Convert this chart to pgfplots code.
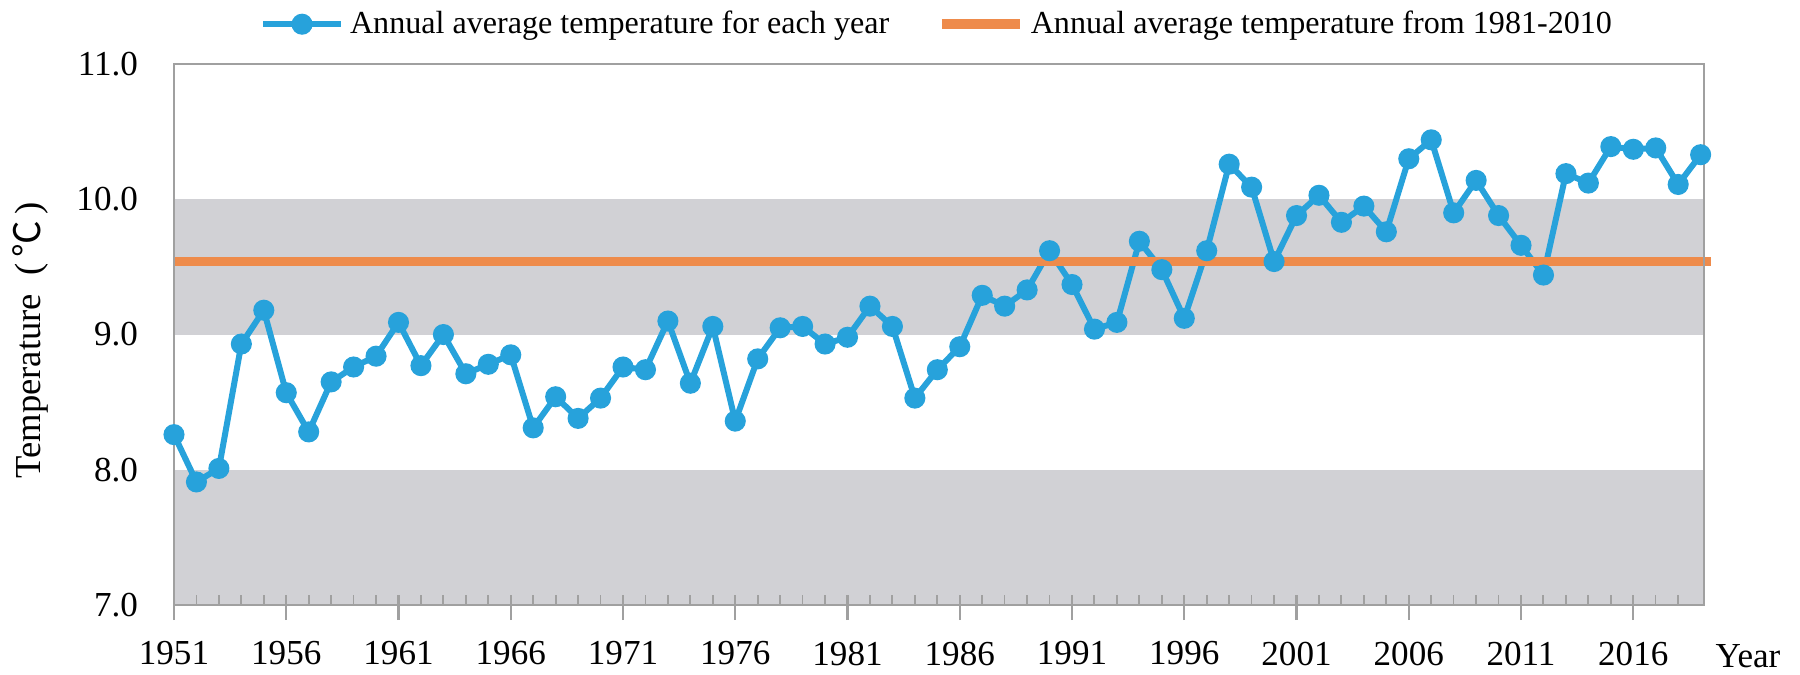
\documentclass[border=0pt]{standalone}
\usepackage{fontspec}
\setmainfont{Liberation Serif}
\newfontfamily\cjk{Noto Sans CJK SC}
\usepackage{pgfplots}
\usepackage{pgfplotstable}
\pgfplotsset{compat=1.18}
\definecolor{lineblue}{HTML}{27A2DB}
\definecolor{lineorange}{HTML}{EE8B4B}
\definecolor{band}{HTML}{D1D1D5}
\definecolor{axgray}{HTML}{A0A0A0}
\pgfplotstableread{
year temp
1951 8.26
1952 7.91
1953 8.01
1954 8.93
1955 9.18
1956 8.57
1957 8.28
1958 8.65
1959 8.76
1960 8.84
1961 9.09
1962 8.77
1963 9.00
1964 8.71
1965 8.78
1966 8.85
1967 8.31
1968 8.54
1969 8.38
1970 8.53
1971 8.76
1972 8.74
1973 9.10
1974 8.64
1975 9.06
1976 8.36
1977 8.82
1978 9.05
1979 9.06
1980 8.93
1981 8.98
1982 9.21
1983 9.06
1984 8.53
1985 8.74
1986 8.91
1987 9.29
1988 9.21
1989 9.33
1990 9.62
1991 9.37
1992 9.04
1993 9.09
1994 9.69
1995 9.48
1996 9.12
1997 9.62
1998 10.26
1999 10.09
2000 9.54
2001 9.88
2002 10.03
2003 9.83
2004 9.95
2005 9.76
2006 10.30
2007 10.44
2008 9.90
2009 10.14
2010 9.88
2011 9.66
2012 9.44
2013 10.19
2014 10.12
2015 10.39
2016 10.37
2017 10.38
2018 10.11
2019 10.33
}\temps
\begin{document}
\begin{tikzpicture}
\path[use as bounding box] (0,0) rectangle (600pt,224.67pt);
\begin{axis}[
 at={(58pt,23pt)}, anchor=south west,
 scale only axis, width=510pt, height=180.3pt,
 xmin=1951, xmax=2019.15, ymin=7, ymax=11,
 axis on top,
 axis line style={axgray, line width=0.7pt},
 xtick={1951,1956,...,2016},
 minor xtick={1951,...,2018},
 xtick pos=bottom, ytick pos=left,
 xtick align=inside,
 major tick length=8.3pt, minor tick length=3.3pt,
 major x tick style={axgray, line width=0.7pt, yshift=-5pt},
 minor x tick style={axgray, line width=0.6pt},
 ytick={7,8,...,11},
 ytick style={draw=none},
 xticklabel style={yshift=-8.7pt},
 yticklabel style={xshift=-8.5pt},
 tick label style={font=\fontsize{11.7}{14}\selectfont},
 x tick label style={/pgf/number format/1000 sep={}},
 y tick label style={/pgf/number format/.cd, fixed, fixed zerofill, precision=1},
 /pgf/number format/assume math mode=true,
 clip=false,
 legend columns=2,
 legend style={at={(rel axis cs:0.5,1)}, anchor=center, yshift=13.3pt, draw=none, fill=none,
   font=\fontsize{10.7}{13}\selectfont,
   /tikz/every even column/.append style={column sep=14pt}},
 legend image code/.code={\draw[mark repeat=2,mark phase=2,#1] plot coordinates {(0pt,0pt) (13pt,0pt) (26pt,0pt)};},
]
\fill[band] (rel axis cs:0,0) rectangle (rel axis cs:1,0.25);
\fill[band] (rel axis cs:0,0.5) rectangle (rel axis cs:1,0.75);
\addplot[lineblue, line width=2pt, mark=*, mark size=2.5pt, mark options={fill=lineblue, draw=lineblue, solid}] table[x=year, y=temp] {\temps};
\addlegendentry{Annual average temperature for each year}
\addplot[lineorange, line width=3.2pt] coordinates {(1951,9.54) (2019.46,9.54)};
\addlegendentry{Annual average temperature from 1981-2010}
\node[anchor=base west, inner sep=0pt, font=\fontsize{11.7}{14}\selectfont] at ([xshift=3.7pt, yshift=-20.7pt]rel axis cs:1,0) {Year};
\node[rotate=90, anchor=center, inner sep=0pt, font=\fontsize{12.2}{14}\selectfont] at ([xshift=-47.7pt, yshift=-2pt]rel axis cs:0,0.5) {Temperature\enspace(\,{\cjk ℃}\,)};
\end{axis}
\end{tikzpicture}
\end{document}
